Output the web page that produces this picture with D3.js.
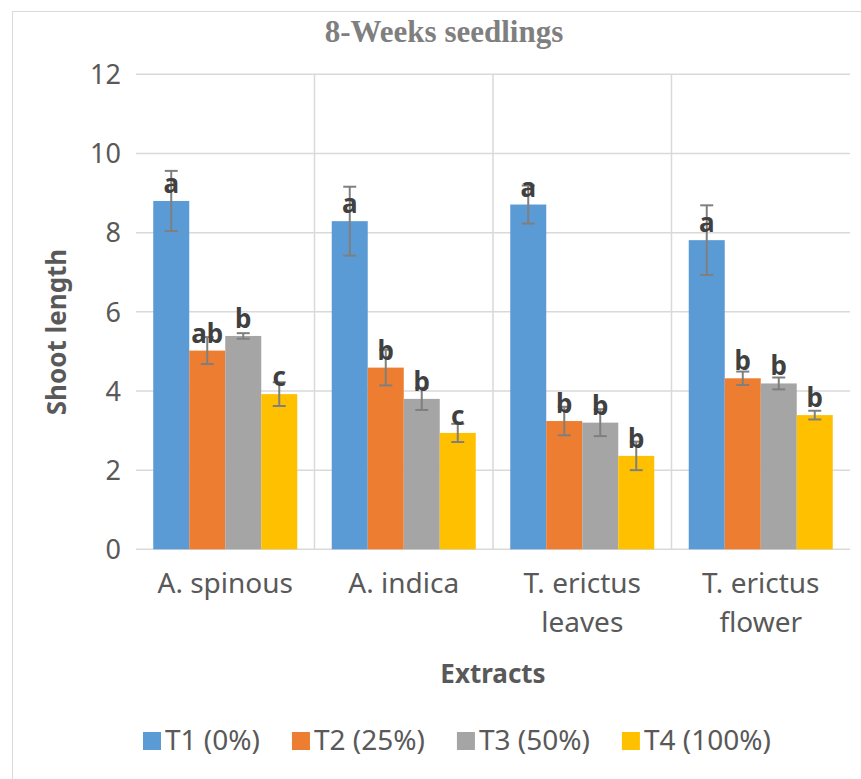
<!DOCTYPE html>
<html>
<head>
<meta charset="utf-8">
<script src="https://cdn.jsdelivr.net/npm/d3@7"></script>
<style>
  body { margin: 0; background: #fff; }
  svg { display: block; font-family: "Noto Sans", sans-serif; }
</style>
</head>
<body>
<div id="chart"></div>
<script>
// Chart data
var categories = ["A. spinous", "A. indica", "T. erictus leaves", "T. erictus flower"];
var categoryLines = [["A. spinous"], ["A. indica"], ["T. erictus", "leaves"], ["T. erictus", "flower"]];
var seriesNames = ["T1 (0%)", "T2 (25%)", "T3 (50%)", "T4 (100%)"];
var t1Values = [8.80, 8.29, 8.71, 7.81];
var t2Values = [5.02, 4.59, 3.24, 4.32];
var t3Values = [5.39, 3.80, 3.20, 4.19];
var t4Values = [3.92, 2.94, 2.36, 3.39];
var t1Err = [0.76, 0.87, 0.48, 0.88];
var t2Err = [0.34, 0.45, 0.36, 0.17];
var t3Err = [0.07, 0.28, 0.34, 0.15];
var t4Err = [0.30, 0.23, 0.36, 0.11];
var t1Letters = ["a", "a", "a", "a"];
var t2Letters = ["ab", "b", "b", "b"];
var t3Letters = ["b", "b", "b", "b"];
var t4Letters = ["c", "c", "b", "b"];
var yTicks = [0, 2, 4, 6, 8, 10, 12];

var colors = ["#5B9BD5", "#ED7D31", "#A5A5A5", "#FFC000"];
var allValues = [t1Values, t2Values, t3Values, t4Values];
var allErr = [t1Err, t2Err, t3Err, t4Err];
var allLetters = [t1Letters, t2Letters, t3Letters, t4Letters];

var width = 861, height = 779;
var plotLeft = 136, plotRight = 850, plotTop = 74.3, plotBottom = 549.3;

var svg = d3.select("#chart").append("svg")
    .attr("width", width)
    .attr("height", height);

// chart area border
svg.append("rect")
    .attr("x", 12.5).attr("y", 11.5)
    .attr("width", 1000).attr("height", 1000)
    .attr("fill", "none")
    .attr("stroke", "#d9d9d9");

// Title
svg.append("text")
    .attr("x", 444).attr("y", 42)
    .attr("text-anchor", "middle")
    .attr("font-family", "'Liberation Serif', 'Times New Roman', serif")
    .attr("font-weight", "bold")
    .attr("font-size", 31)
    .attr("fill", "#7f7f7f")
    .text("8-Weeks seedlings");

// Scales
var x0 = d3.scaleBand().domain(categories).range([plotLeft, plotRight]);
var x1 = d3.scaleBand().domain(seriesNames).range([0, x0.bandwidth()]).paddingOuter(0.479);
var y = d3.scaleLinear().domain([0, 12]).range([plotBottom, plotTop]);

// Horizontal gridlines
svg.append("g").selectAll("line").data(yTicks).enter().append("line")
    .attr("x1", plotLeft).attr("x2", plotRight)
    .attr("y1", function(d) { return y(d); })
    .attr("y2", function(d) { return y(d); })
    .attr("stroke", "#d9d9d9").attr("stroke-width", 1.5);

// Vertical gridlines between categories
svg.append("g").selectAll("line").data(categories.slice(1)).enter().append("line")
    .attr("x1", function(d) { return x0(d); })
    .attr("x2", function(d) { return x0(d); })
    .attr("y1", plotTop).attr("y2", plotBottom)
    .attr("stroke", "#d9d9d9").attr("stroke-width", 1.5);

// Y tick labels
svg.append("g").selectAll("text").data(yTicks).enter().append("text")
    .attr("x", 121)
    .attr("y", function(d) { return y(d); })
    .attr("dy", "0.36em")
    .attr("text-anchor", "end")
    .attr("font-size", 27)
    .attr("fill", "#595959")
    .text(function(d) { return d; });

// Bars
var rows = [];
categories.forEach(function(c, ci) {
    seriesNames.forEach(function(s, si) {
        rows.push({
            cat: c, ser: s, si: si,
            value: allValues[si][ci],
            err: allErr[si][ci],
            letter: allLetters[si][ci]
        });
    });
});

svg.append("g").selectAll("rect").data(rows).enter().append("rect")
    .attr("x", function(d) { return x0(d.cat) + x1(d.ser); })
    .attr("y", function(d) { return y(d.value); })
    .attr("width", x1.bandwidth())
    .attr("height", function(d) { return plotBottom - y(d.value); })
    .attr("fill", function(d) { return colors[d.si]; });

// Error bars
var errG = svg.append("g")
    .attr("stroke", "#7f7f7f")
    .attr("stroke-width", 2);
var capW = 6.5;
rows.forEach(function(d) {
    var cx = x0(d.cat) + x1(d.ser) + x1.bandwidth() / 2;
    var yHi = y(d.value + d.err), yLo = y(d.value - d.err);
    errG.append("line").attr("x1", cx).attr("x2", cx).attr("y1", yHi).attr("y2", yLo);
    errG.append("line").attr("x1", cx - capW).attr("x2", cx + capW).attr("y1", yHi).attr("y2", yHi);
    errG.append("line").attr("x1", cx - capW).attr("x2", cx + capW).attr("y1", yLo).attr("y2", yLo);
});

// Significance letters
svg.append("g").selectAll("text").data(rows).enter().append("text")
    .attr("x", function(d) { return x0(d.cat) + x1(d.ser) + x1.bandwidth() / 2; })
    .attr("y", function(d) { return y(d.value) - 8; })
    .attr("text-anchor", "middle")
    .attr("font-size", 26)
    .attr("font-weight", "bold")
    .attr("fill", "#404040")
    .text(function(d) { return d.letter; });

// Category labels
var catG = svg.append("g").selectAll("text").data(categories).enter().append("text")
    .attr("x", function(d) { return x0(d) + x0.bandwidth() / 2; })
    .attr("y", 593)
    .attr("text-anchor", "middle")
    .attr("font-size", 28)
    .attr("fill", "#595959");
catG.each(function(d, i) {
    var t = d3.select(this);
    categoryLines[i].forEach(function(line, li) {
        t.append("tspan")
            .attr("x", x0(d) + x0.bandwidth() / 2)
            .attr("y", 593 + li * 39)
            .text(line);
    });
});

// Axis titles
svg.append("text")
    .attr("x", (plotLeft + plotRight) / 2).attr("y", 683)
    .attr("text-anchor", "middle")
    .attr("font-size", 26)
    .attr("font-weight", "bold")
    .attr("fill", "#595959")
    .text("Extracts");

svg.append("text")
    .attr("transform", "translate(66,332) rotate(-90)")
    .attr("text-anchor", "middle")
    .attr("font-size", 26)
    .attr("font-weight", "bold")
    .attr("fill", "#595959")
    .text("Shoot length");

// Legend
var legend = svg.append("g");
var lx = 143;
seriesNames.forEach(function(name, i) {
    legend.append("rect")
        .attr("x", lx).attr("y", 732)
        .attr("width", 18).attr("height", 18)
        .attr("fill", colors[i]);
    var t = legend.append("text")
        .attr("x", lx + 22).attr("y", 750)
        .attr("font-size", 28)
        .attr("fill", "#595959")
        .text(name);
    lx += 22 + t.node().getComputedTextLength() + 32;
});
</script>
</body>
</html>
